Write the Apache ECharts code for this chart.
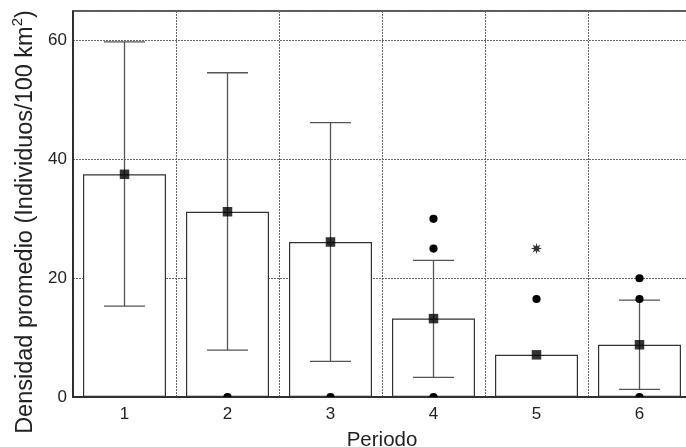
<!DOCTYPE html>
<html>
<head>
<meta charset="utf-8">
<script src="https://cdn.jsdelivr.net/npm/echarts@6/dist/echarts.min.js"></script>
<style>html,body{margin:0;padding:0;background:#fff;overflow:hidden}#c{width:686px;height:447px}</style>
</head>
<body>
<div id="c"></div>
<script>
var categories = ['1', '2', '3', '4', '5', '6'];
var means = [37.5, 31.2, 26.1, 13.2, 7.1, 8.8];
var errLow = [15.3, 7.9, 6.0, 3.3, null, 1.3];
var errHigh = [59.8, 54.6, 46.2, 23.0, null, 16.3];
var outliers = [[1, 0], [2, 0], [3, 0], [3, 25], [3, 30], [4, 16.5], [5, 0], [5, 16.5], [5, 20]];
var extremes = [[4, 25]];
var yTicks = { min: 0, max: 65, interval: 20 };

var FONT = 'Liberation Sans, Arial, Helvetica, sans-serif';
var chart = echarts.init(document.getElementById('c'), null, { renderer: 'canvas' });

var errData = [];
for (var i = 0; i < categories.length; i++) {
  if (errLow[i] != null) errData.push([i, errLow[i], errHigh[i]]);
}
var meanData = means.map(function (v, i) { return [i, v]; });

var starPath = 'path://M20 10 L14.16 11.72 L17.07 17.07 L11.72 14.16 L10 20 L8.28 14.16 L2.93 17.07 L5.84 11.72 L0 10 L5.84 8.28 L2.93 2.93 L8.28 5.84 L10 0 L11.72 5.84 L17.07 2.93 L14.16 8.28 Z';

chart.setOption({
  animation: false,
  backgroundColor: '#fff',
  grid: { left: 73, top: 11, width: 618, height: 386, outerBoundsMode: 'none', containLabel: false, show: true, borderColor: '#222', borderWidth: 1.5, backgroundColor: 'transparent' },
  xAxis: {
    type: 'category',
    data: categories,
    boundaryGap: true,
    axisLine: { show: true, lineStyle: { color: '#222', width: 1.5 } },
    axisTick: { show: false },
    axisLabel: { color: '#222', fontSize: 17, fontFamily: FONT, margin: 9 },
    splitLine: { show: true, lineStyle: { color: '#666', type: [2, 1], width: 1 } },
    name: 'Periodo',
    nameLocation: 'middle',
    nameGap: 33,
    nameTextStyle: { color: '#222', fontSize: 20.5, fontFamily: FONT }
  },
  yAxis: {
    type: 'value',
    min: yTicks.min,
    max: yTicks.max,
    interval: yTicks.interval,
    axisLine: { show: true, lineStyle: { color: '#222', width: 1.5 } },
    axisTick: { show: false },
    axisLabel: { color: '#222', fontSize: 17, fontFamily: FONT, margin: 6, showMaxLabel: false },
    splitLine: { show: true, lineStyle: { color: '#666', type: [2, 1], width: 1 } }
  },
  graphic: [{
    type: 'text',
    x: 24,
    y: 222,
    rotation: Math.PI / 2,
    style: {
      text: '{a|Densidad promedio (Individuos/100 km}{s|2}{a|)}',
      align: 'center',
      verticalAlign: 'middle',
      fill: '#222',
      rich: {
        a: { fontSize: 23.5, fontFamily: FONT, fill: '#222', verticalAlign: 'bottom', lineHeight: 27 },
        s: { fontSize: 15, fontFamily: FONT, fill: '#222', verticalAlign: 'top', lineHeight: 27 }
      }
    }
  }],
  series: [
    {
      type: 'bar',
      data: means,
      barWidth: 83,
      itemStyle: { color: '#fff', borderColor: '#333', borderWidth: 1.2 },
      z: 2
    },
    {
      type: 'custom',
      data: errData,
      z: 3,
      renderItem: function (params, api) {
        var x = api.value(0);
        var lo = api.coord([x, api.value(1)]);
        var hi = api.coord([x, api.value(2)]);
        var half = 20.5;
        var st = { stroke: '#555', lineWidth: 1.3 };
        return {
          type: 'group',
          children: [
            { type: 'line', shape: { x1: lo[0], y1: lo[1], x2: hi[0], y2: hi[1] }, style: st },
            { type: 'line', shape: { x1: hi[0] - half, y1: hi[1], x2: hi[0] + half, y2: hi[1] }, style: st },
            { type: 'line', shape: { x1: lo[0] - half, y1: lo[1], x2: lo[0] + half, y2: lo[1] }, style: st }
          ]
        };
      },
      encode: { x: 0, y: [1, 2] }
    },
    {
      type: 'scatter',
      data: meanData,
      symbol: 'rect',
      symbolSize: 9.5,
      itemStyle: { color: '#000' },
      z: 5
    },
    {
      type: 'custom',
      data: outliers,
      clip: true,
      z: 5,
      renderItem: function (params, api) {
        var p = api.coord([api.value(0), api.value(1)]);
        return { type: 'circle', shape: { cx: p[0], cy: p[1], r: 4.1 }, style: { fill: '#000' } };
      },
      encode: { x: 0, y: 1 }
    },
    {
      type: 'scatter',
      data: extremes,
      symbol: starPath,
      symbolSize: 11,
      itemStyle: { color: '#000' },
      z: 5
    }
  ]
});
</script>
</body>
</html>
